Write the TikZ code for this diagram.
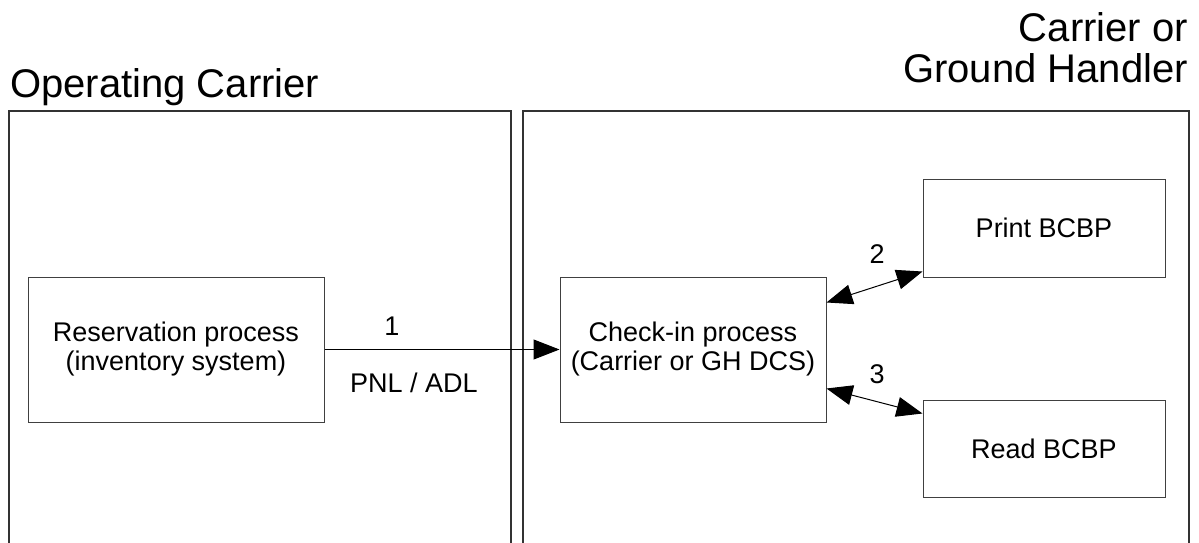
\documentclass[tikz,border=0pt]{standalone}
\usepackage{fontspec}
\setmainfont{Liberation Sans}
\usepackage{tikz}
\usetikzlibrary{positioning, arrows.meta}

\tikzset{
    procbox/.style={draw=black!75, line width=1pt, align=center, inner sep=0pt,
        font=\fontsize{27}{29}\selectfont},
    lbl/.style={font=\fontsize{27}{29}\selectfont, inner sep=0pt, anchor=base},
    ttl/.style={font=\fontsize{40}{41}\selectfont, inner sep=0pt},
    frame/.style={draw=black!80, line width=1.5pt},
    flow/.style={line width=1pt, -{Triangle[length=26pt,width=20pt]}},
    flowboth/.style={line width=1pt, {Triangle[length=26pt,width=20pt]}-{Triangle[length=26pt,width=20pt]}}
}

\begin{document}
\begin{tikzpicture}[x=1pt, y=-1pt]
        \useasboundingbox (0,0) rectangle (1199,543);
        % Titles
        \node[ttl, anchor=base west] (optitle) at (10,97) {Operating Carrier};
        \node[ttl, anchor=base east, align=right] (ghtitle) at (1188,82) {Carrier or\\Ground Handler};
        % Frames (open at the bottom)
        \draw[frame] (9,543) -- (9,111) -- (511,111) -- (511,543);
        \draw[frame] (523,543) -- (523,111) -- (1189,111) -- (1189,543);
        % Process boxes
        \node[procbox, minimum width=296pt, minimum height=145pt] (resv) at (176,349.5) {Reservation process\\(inventory system)};
        \node[procbox, minimum width=266pt, minimum height=145pt] (checkin) at (693,349.5) {Check-in process\\(Carrier or GH DCS)};
        \node[procbox, minimum width=242pt, minimum height=98pt] (print) at (1044,228) {Print BCBP};
        \node[procbox, minimum width=242pt, minimum height=97pt] (read) at (1044,448.5) {Read BCBP};
        % Connectors
        \draw[flow] (resv.east) -- (checkin.west);
        \draw[flowboth] ([yshift=-26pt]checkin.north east) -- ([yshift=6pt]print.south west);
        \draw[flowboth] ([yshift=34pt]checkin.south east) -- ([yshift=-14pt]read.north west);
        % Labels
        \node[lbl] (one) at (392,335) {1};
        \node[lbl] (pnl) at (414,392) {PNL / ADL};
        \node[lbl] (two) at (877,263) {2};
        \node[lbl] (three) at (877,383) {3};
    \end{tikzpicture}
\end{document}
